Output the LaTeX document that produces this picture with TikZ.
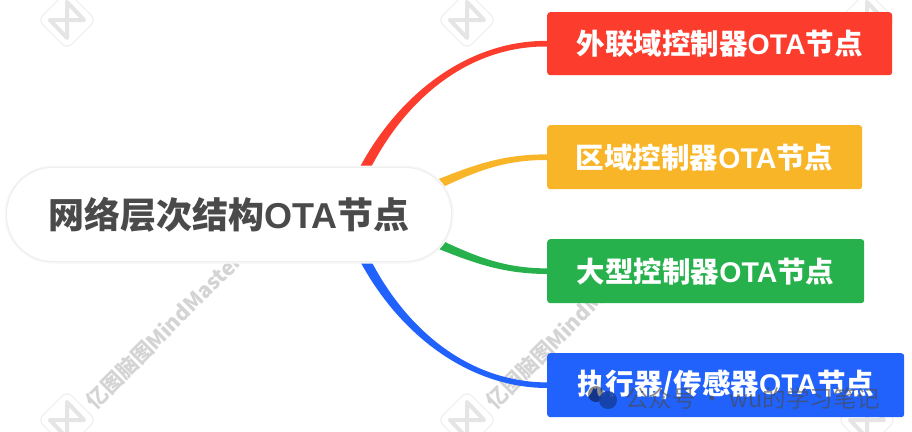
\documentclass[tikz,border=0pt]{standalone}
\usepackage{fontspec}
\setmainfont{Noto Sans CJK SC}
\newfontfamily\latf{Liberation Sans}
\usetikzlibrary{backgrounds}
\definecolor{cred}{HTML}{FC3D2E}
\definecolor{cyel}{HTML}{F8B528}
\definecolor{cgrn}{HTML}{27B14C}
\definecolor{cblu}{HTML}{2162FC}
\definecolor{ctxt}{HTML}{4A4A4A}
\newcommand{\ota}{{\latf OTA}}
\tikzset{
  leafbox/.style={anchor=north west,inner sep=0pt,rounded corners=3pt,text=white,font=\fontsize{28.5}{28.5}\selectfont\bfseries,align=center},
  wm/.style={rotate=45,anchor=west,inner sep=0pt,text=black!17,font=\fontsize{21}{21}\selectfont\bfseries},
  logoline/.style={draw=black!7,line width=1pt,rounded corners=7pt,fill=white},
  logomark/.style={draw=black!10,line width=4pt,line cap=round,line join=round}
}
\newcommand{\wmlogo}[2]{%
  \begin{scope}[shift={(#1,#2)}]
    \draw[logoline] (-29,0) -- (0,-29) -- (29,0) -- (0,29) -- cycle;
    \draw[logomark] (-17,0) -- (17,0) -- (0,-18) -- (0,18) -- (-17,0);
  \end{scope}}
% tapered branch: #1 colour, #2 start, #3 c1, #4 c2, #5 target node anchor, #6 half-width at start (x,y), #7 half-width at mid (x,y)
\newcommand{\branch}[7]{%
  \fill[#1] ($(#2)+(#6)$) .. controls ($(#3)+(#7)$) and ($(#4)+(0,-2.8)$) .. ($(#5)+(0,-2.8)$)
     -- ($(#5)+(0,2.8)$) .. controls ($(#4)+(0,2.8)$) and ($(#3)-(#7)$) .. ($(#2)-(#6)$) -- cycle;}
\usetikzlibrary{calc}
\begin{document}
\begin{tikzpicture}[x=1pt,y=-1pt]
\useasboundingbox (0,0) rectangle (912,431);
\node[anchor=center,minimum width=444pt,minimum height=93pt,inner sep=0pt,fill=white,rounded corners=46pt,text=ctxt,font=\fontsize{36}{36}\selectfont\bfseries] (root) at (229,214.5) {网络层次结构\ota 节点};
\node[leafbox,fill=cred,minimum width=345pt,minimum height=63pt] (a) at (547,12) {外联域控制器\ota 节点};
\node[leafbox,fill=cyel,minimum width=315pt,minimum height=64pt] (b) at (547,125) {区域控制器\ota 节点};
\node[leafbox,fill=cgrn,minimum width=317pt,minimum height=64pt] (c) at (547,239) {大型控制器\ota 节点};
\node[leafbox,fill=cblu,minimum width=357pt,minimum height=64pt] (d) at (547,353) {执行器/传感器\ota 节点};
\begin{scope}[on background layer]
  \fill[white] (0,0) rectangle (912,431);
  \wmlogo{67}{20}\wmlogo{467}{20}\wmlogo{867}{20}
  \wmlogo{67}{420}\wmlogo{467}{420}\wmlogo{867}{420}
  \node[wm] (w1) at (90,405) {亿图脑图MindMaster};
  \node[wm] (w2) at (490,405) {亿图脑图MindMaster};
  \coordinate (ra) at (360,178);
  \coordinate (rb) at (425,190);
  \coordinate (rc) at (425,238);
  \coordinate (rd) at (360,250);
  \branch{cred}{ra}{400,95}{470,43}{a.west}{-4.5,-2.5}{-3,-2.5}
  \branch{cyel}{rb}{470,170}{500,157}{b.west}{-2,-4.5}{-1,-3.5}
  \branch{cgrn}{rc}{470,258}{500,271}{c.west}{2,-4.5}{1,-3.5}
  \branch{cblu}{rd}{400,333}{470,385}{d.west}{4.5,-2.5}{3,-2.5}
  \draw[draw=black!3,line width=5pt,rounded corners=46pt] (7,168) rectangle (451,261);
  \draw[draw=black!7,line width=2pt,rounded corners=46pt] (7,168) rectangle (451,261);
\end{scope}
\node[anchor=west,inner sep=0pt,opacity=.62,text=ctxt,font=\fontsize{23.5}{23.5}\selectfont] (wx) at (625,398) {公众号 · wu的学习笔记};
\fill[black,opacity=.45] (596,394) circle (8pt);
\fill[cblu!65!black,opacity=.9] (608,400) circle (9pt);
\end{tikzpicture}
\end{document}
